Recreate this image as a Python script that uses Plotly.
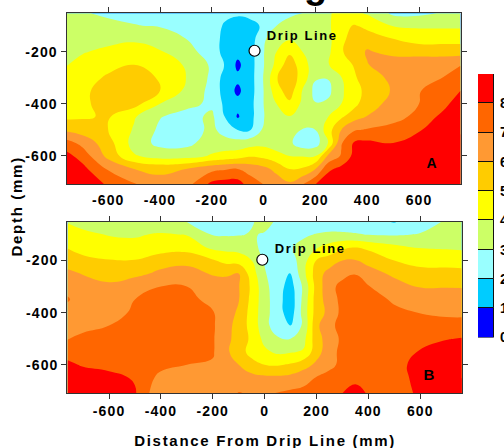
import plotly.graph_objects as go

X = [-760,-700,-600,-500,-400,-300,-200,-150,-100,-50,0,50,100,150,200,250,300,350,400,500,600,700,760]
Y = [-52,-100,-150,-200,-250,-300,-350,-400,-450,-500,-550,-600,-650,-710]

Z_A = [
[3.3,3.1,2.8,2.7,2.6,2.5,2.3,2.1,2.1,2.2,2.3,2.5,2.8,3.0,3.4,3.9,4.3,4.2,3.9,2.8,2.8,3.1,3.2],
[3.6,3.4,3.3,3.05,2.9,2.7,2.2,1.95,1.7,1.8,2.1,3.0,3.4,3.6,3.6,3.85,4.6,5.1,4.7,3.95,3.85,3.85,3.85],
[3.7,3.6,3.6,3.85,3.8,3.0,2.5,1.7,1.6,1.5,2.9,3.4,3.9,3.6,3.5,3.75,4.7,5.5,5.6,5.0,4.6,4.6,4.6],
[3.9,3.9,4.3,4.4,4.05,3.4,2.5,1.7,1.3,1.6,2.95,4.0,4.8,4.0,3.6,3.8,4.9,5.5,6.1,5.7,5.6,5.6,5.6],
[3.97,4.4,4.8,5.0,4.6,3.9,2.85,1.95,0.8,1.6,2.95,4.3,5.6,4.4,3.5,3.95,4.7,5.05,5.95,6.6,6.7,6.7,6.95],
[4.3,4.7,5.1,5.5,4.9,4.0,2.8,1.6,1.2,1.6,3.05,4.95,5.6,4.6,3.1,3.05,3.95,4.9,5.4,6.3,6.6,7.05,7.6],
[4.5,4.85,5.3,5.95,5.0,3.8,2.7,1.6,0.8,1.6,3.0,4.6,5.5,3.95,2.7,2.75,3.85,4.6,5.3,6.1,6.95,7.5,8.0],
[4.6,4.85,5.3,5.4,4.0,3.3,2.8,1.8,1.3,1.7,3.0,4.0,4.8,3.8,3.05,3.2,4.0,4.7,5.6,6.3,7.0,7.8,8.5],
[4.8,4.9,5.1,4.1,3.05,2.6,3.2,2.0,0.9,1.7,2.95,3.5,3.95,3.6,3.5,4.0,4.85,5.6,6.05,6.5,7.4,8.3,8.7],
[5.8,5.5,5.0,3.9,2.8,2.3,3.3,2.5,2.0,2.0,3.2,3.4,3.4,2.95,3.0,4.6,6.0,6.9,7.1,7.5,7.9,8.6,8.9],
[7.4,6.7,5.4,3.6,2.7,2.7,3.5,3.5,3.4,3.6,3.7,3.5,3.2,2.4,2.5,4.05,6.9,8.1,8.2,8.0,8.7,9,9.2],
[8.3,7.6,5.7,4.1,3.6,3.6,4.1,4.3,4.5,4.9,4.7,4.3,4.0,3.95,3.95,6.2,7.1,8.3,8.6,8.8,9,9.2,9.3],
[9,8.3,6.9,6.0,5.7,6.0,6.7,6.9,7.0,6.6,6.3,5.7,5.0,5.1,6.0,7.8,8.3,8.7,8.9,9,9.2,9.3,9.4],
[9.5,9.2,7.8,7.1,6.5,6.6,8.3,8.5,8.5,7.5,7.0,6.6,6.2,7.0,8.0,8.7,9,9.1,9.2,9.3,9.4,9.4,9.5],
]

Z_B = [
[3.95,3.7,3.5,3.3,3.2,3.0,2.6,2.6,2.6,2.95,3.2,2.9,2.6,2.6,2.4,2.3,2.2,2.2,2.3,1.95,2.6,3.1,3.2],
[4.45,4.2,3.95,3.9,4.1,3.95,2.95,2.9,2.95,3.05,2.95,2.5,2.7,2.85,3.05,3.2,3.2,3.1,2.95,2.9,3.05,3.4,3.5],
[4.95,4.7,4.4,4.3,4.5,4.6,3.8,3.7,3.6,3.3,2.7,2.4,2.9,3.3,3.9,4.4,4.8,5.0,4.8,4.3,3.95,3.9,3.85],
[5.6,5.2,5.05,5.05,5.6,5.7,5.1,4.7,4.6,4.0,2.9,2.4,2.5,3.6,5.05,5.4,6.0,6.05,5.7,5.0,4.6,4.6,4.55],
[6.2,5.95,5.6,5.75,6.2,6.4,5.9,5.9,6.0,4.5,3.1,2.3,1.95,3.7,5.5,6.4,6.7,6.95,6.4,5.8,5.4,5.35,5.3],
[6.7,6.4,6.2,6.6,7.0,7.0,6.6,6.3,6.05,4.8,3.3,2.4,1.6,3.2,5.4,6.7,7.3,7.5,7.05,6.4,5.95,5.95,5.95],
[7.1,6.5,6.3,7.0,7.2,7.2,6.8,6.4,6.05,4.7,3.4,2.4,1.4,3.3,5.5,6.5,7.3,7.6,7.3,6.9,6.5,6.45,6.4],
[6.6,6.4,6.5,7.2,7.5,7.5,7.05,6.6,5.8,4.6,3.4,2.4,1.5,3.4,5.5,6.3,7.3,7.7,7.6,7.15,6.98,6.85,6.8],
[6.4,6.5,7.0,7.5,7.8,7.7,7.1,6.5,5.5,4.7,3.3,2.5,2.0,3.2,5.8,6.7,7.4,7.7,7.9,7.6,7.4,7.3,7.35],
[6.95,7.4,7.7,7.9,7.8,7.7,7.1,6.3,5.6,4.8,3.7,3.1,3.0,3.7,5.6,6.5,7.2,7.6,7.8,7.8,7.75,7.95,8.05],
[7.6,7.6,7.8,7.9,7.7,7.6,7.1,6.2,5.5,4.6,4.2,3.8,3.9,4.1,5.6,6.6,7.3,7.7,7.8,7.6,8.05,8.4,8.5],
[8.2,7.9,7.7,7.7,7.3,7.0,6.9,6.3,6.0,5.4,5.0,4.9,5.1,5.6,6.2,6.7,7.3,7.5,7.6,7.6,8.4,8.7,8.7],
[8.7,8.5,8.3,7.9,6.7,6.5,6.6,6.4,6.4,6.3,6.2,6.2,6.3,6.6,7.05,7.4,7.5,7.7,7.7,7.6,8.3,8.9,9],
[9,8.9,8.6,8.1,6.1,6.2,6.3,6.6,7.05,6.9,6.9,7.05,7.2,7.3,7.4,7.6,8.0,8.4,7.9,7.6,8.15,9,9.1],
]

BAND_COLORS = ["#0000ff","#00ccff","#99ffff","#ccff66","#ffff00","#ffcc00","#ff9933","#ff6600","#ff0000"]
BAND_LEVELS = [0,1,2,3,4,5,6,7,8]
BAND_HEIGHT = [1]*9
X_TICKS = [-600,-400,-200,0,200,400,600]
Y_TICKS = [-200,-400,-600]
DRIP_A = (-35,-196)
DRIP_B = (-9,-197)

W, H = 504, 448
FONT = "Liberation Sans"
DARK = "#333333"
n = len(BAND_COLORS)
scale = []
for i, c in enumerate(BAND_COLORS):
    scale += [[i/n, c], [(i+1)/n, c]]

def dom_x(a, b): return [a/W, b/W]
def dom_y(top, bot): return [1-bot/H, 1-top/H]

fig = go.Figure()
def contour(z, xa, ya):
    fig.add_trace(go.Contour(x=X, y=Y, z=z, xaxis=xa, yaxis=ya, colorscale=scale, zmin=0, zmax=9,
        autocontour=False, contours=dict(start=0, end=9, size=1, coloring="fill", showlines=False),
        line=dict(width=0, smoothing=1.3), showscale=False, hoverinfo="skip"))
contour(Z_A, "x", "y")
contour(Z_B, "x2", "y2")

for p, xa, ya in ((DRIP_A,"x","y"), (DRIP_B,"x2","y2")):
    fig.add_trace(go.Scatter(x=[p[0]], y=[p[1]], xaxis=xa, yaxis=ya, mode="markers", showlegend=False,
        marker=dict(size=11, color="white", line=dict(color="black", width=1.2))))

fig.add_trace(go.Bar(x=[0]*n, y=BAND_HEIGHT, base=BAND_LEVELS, xaxis="x3", yaxis="y3", width=1,
    marker=dict(color=BAND_COLORS, line=dict(color="#111111", width=1)), showlegend=False, hoverinfo="skip"))
fig.add_trace(go.Scatter(x=[None], y=[None], xaxis="x4", yaxis="y", showlegend=False))

tickfont = dict(family=FONT, size=14, color="black", weight="bold")
common_x = dict(range=[-761,761], tickvals=X_TICKS, ticktext=[str(v) for v in X_TICKS], showgrid=False, zeroline=False,
    showline=True, linecolor=DARK, linewidth=1, tickcolor=DARK, tickwidth=1, tickfont=tickfont)
common_y = dict(tickvals=Y_TICKS, ticktext=[str(v) for v in Y_TICKS], showgrid=False, zeroline=False, showline=True,
    linecolor=DARK, linewidth=1, tickcolor=DARK, tickwidth=1, tickfont=tickfont, ticks="outside", ticklen=5, mirror="ticks")

fig.update_layout(
    width=W, height=H, autosize=False, margin=dict(l=0,r=0,t=0,b=0,autoexpand=False), paper_bgcolor="white", plot_bgcolor="white",
    showlegend=False, bargap=0,
    xaxis=dict(common_x, domain=dom_x(66.5,460.7), anchor="y", ticks="", mirror=True, ticklabelstandoff=3),
    yaxis=dict(common_y, domain=dom_y(13.3,184), anchor="x", range=[-708,-52]),
    xaxis4=dict(range=[-761,761], tickvals=X_TICKS, overlaying="x", anchor="y", side="top", ticks="outside", ticklen=5,
        tickcolor=DARK, showticklabels=False, showgrid=False, zeroline=False, showline=False),
    xaxis2=dict(common_x, domain=dom_x(67.3,462), anchor="y2", ticks="outside", ticklen=5, mirror="ticks"),
    yaxis2=dict(common_y, domain=dom_y(222,393.3), anchor="x2", range=[-710,-52]),
    xaxis3=dict(domain=dom_x(478,494), anchor="y3", range=[-0.5,0.5], visible=False),
    yaxis3=dict(domain=dom_y(74,337.5), anchor="x3", range=[0,9], side="right", tickvals=BAND_LEVELS, ticks="",
        tickfont=tickfont, showgrid=False, zeroline=False, showline=False, ticklabelstandoff=5),
)
def note(text, x, y, size=14, angle=0):
    fig.add_annotation(text=text, x=x/W, y=1-y/H, xref="paper", yref="paper",
        showarrow=False, textangle=angle, xanchor="center", yanchor="middle",
        font=dict(family=FONT, size=size, color="black", weight="bold"))
note("Drip Line", 302, 35, size=13)
note("Drip Line", 310, 248, size=13)
note("A", 432, 163, size=14)
note("B", 429, 374, size=15)
note("Depth (mm)", 16, 207, size=15, angle=-90)
note("Distance From Drip Line (mm)", 265, 440, size=15)
note("g", 315, -15, size=38)

post = """
var st=document.createElement('style');
st.textContent='html,body{margin:0;padding:0;width:504px;height:448px;overflow:hidden}'
 +'.svg-container{display:block!important}svg.main-svg{overflow:hidden!important}';
document.head.appendChild(st);
document.querySelectorAll('svg text').forEach(function(t){
  var s=t.textContent;
  if(s==='g'){return;}
  if(s.indexOf('(mm)')>=0){t.style.letterSpacing='1.7px';}
  else if(s==='Drip Line'){t.style.letterSpacing='1.6px';}
  else {t.style.letterSpacing='1.1px';}
});
"""
fig.write_html("out.html", post_script=post, default_width="504px", default_height="448px",
               config=dict(displayModeBar=False, responsive=False))
